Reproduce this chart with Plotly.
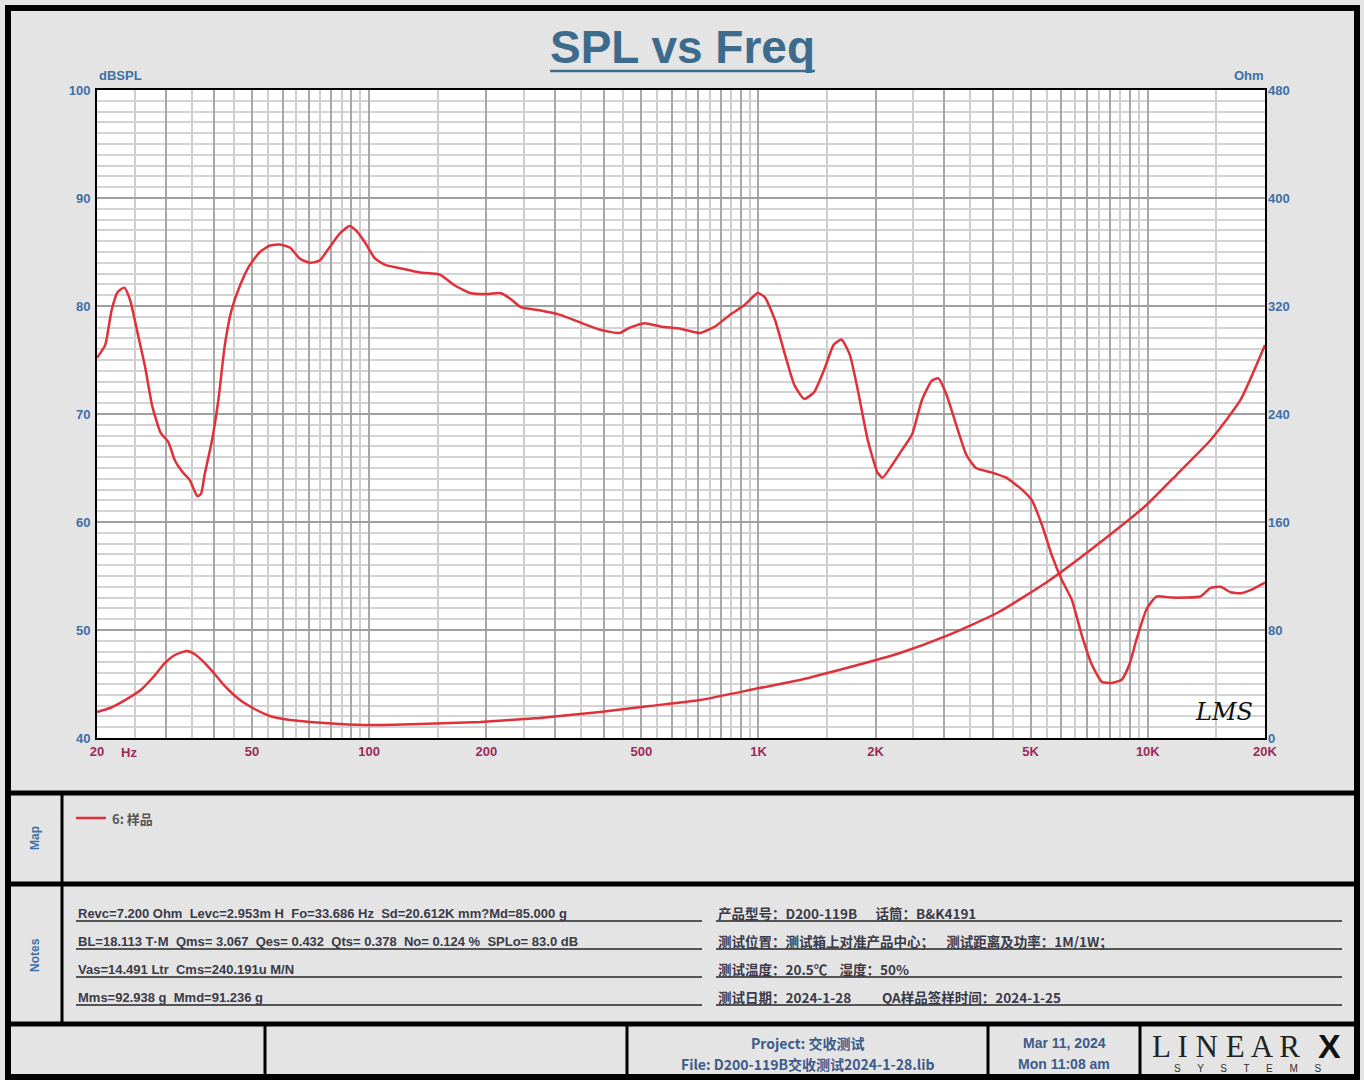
import plotly.graph_objects as go

# ---------------- data ----------------
freq_spl = [20, 21.0, 21.8, 22.6, 23.5, 24.3, 25.5, 26.6, 27.7, 29.1, 30.5, 31.7, 33.2, 34.6,
            36.2, 37.0, 37.8, 39.5, 41.0, 42.6, 44.3, 46.6, 49.4, 52.4, 55.6, 59, 62.7, 66.3,
            70.4, 74.6, 79, 84, 89, 93, 97.5, 103.5, 110, 120, 135, 152, 166, 182, 198, 217,
            230, 245, 274, 308, 347, 392, 440, 467, 510, 560, 630, 708, 773, 846, 921, 996,
            1039, 1103, 1170, 1236, 1310, 1389, 1475, 1560, 1634, 1716, 1800, 1908, 2021, 2082,
            2207, 2340, 2480, 2630, 2790, 2900, 3040, 3220, 3420, 3620, 3960, 4330, 4750, 5040,
            5350, 5670, 6020, 6380, 6770, 7180, 7620, 8080, 8570, 8970, 9350, 9920, 10520,
            11500, 12500, 13660, 14500, 15380, 16320, 17300, 18360, 20000]
spl_db = [75.2, 76.4, 79.6, 81.3, 81.7, 80.6, 77.3, 74.3, 70.8, 68.3, 67.4, 65.7, 64.6, 63.9,
          62.4, 62.6, 64.4, 67.6, 71.3, 76.4, 79.6, 81.9, 83.8, 85.0, 85.6, 85.7, 85.4, 84.4,
          84.0, 84.2, 85.4, 86.7, 87.4, 86.9, 85.9, 84.4, 83.8, 83.5, 83.1, 82.9, 81.9, 81.2,
          81.1, 81.2, 80.7, 79.9, 79.6, 79.2, 78.5, 77.8, 77.5, 78.0, 78.4, 78.1, 77.9, 77.5,
          78.1, 79.2, 80.1, 81.2, 80.8, 78.7, 75.5, 72.7, 71.4, 72.0, 74.1, 76.4, 76.9, 75.5,
          72.2, 67.6, 64.6, 64.1, 65.3, 66.7, 68.1, 71.3, 73.1, 73.3, 71.8, 69.0, 66.2, 65.0,
          64.6, 64.1, 63.0, 62.0, 59.7, 56.9, 54.6, 52.8, 49.5, 46.8, 45.2, 45.1, 45.4, 46.8,
          49.1, 51.9, 53.1, 53.0, 53.0, 53.1, 53.9, 54.0, 53.5, 53.4, 53.7, 54.4]

freq_imp = [20, 21.6, 23.6, 25.9, 28.2, 29.9, 31.7, 34.0, 35.6, 37.8, 40.3, 42.8, 46.6, 50.8,
            55.6, 62.7, 70.4, 84, 100, 135, 193, 274, 392, 525, 708, 1005, 1278, 1720, 2310,
            3040, 4100, 5510, 7400, 9920, 11840, 14500, 17300, 20000]
imp_ohm = [19.3, 22.2, 28.1, 35.6, 46.7, 55.6, 61.5, 64.4, 62.2, 55.6, 46.7, 37.8, 28.1, 21.5,
           16.3, 13.3, 11.9, 10.4, 9.6, 10.4, 11.9, 14.8, 19.3, 23.7, 28.1, 37.0, 43.0, 52.6,
           63.0, 75.6, 92.6, 115.6, 143.0, 172.6, 194.8, 220.7, 250.4, 291.1]

x_major = [20, 30, 40, 50, 60, 70, 80, 90, 100, 200, 300, 400, 500, 600, 700, 800, 900,
           1000, 2000, 3000, 4000, 5000, 6000, 7000, 8000, 9000, 10000, 20000]
x_labels = {20: "20", 50: "50", 100: "100", 200: "200", 500: "500", 1000: "1K",
            2000: "2K", 5000: "5K", 10000: "10K", 20000: "20K"}
x_minor = [25, 35, 45, 55, 65, 75, 85, 95, 150, 250, 350, 450, 550, 650, 750, 850, 950,
           1500, 2500, 3500, 4500, 5500, 6500, 7500, 8500, 9500, 15000]
y_ticks = [40, 50, 60, 70, 80, 90, 100]
y2_ticks = [0, 80, 160, 240, 320, 400, 480]

legend_label = "6: 样品"
notes_left = ["Revc=7.200 Ohm  Levc=2.953m H  Fo=33.686 Hz  Sd=20.612K mm?Md=85.000 g",
              "BL=18.113 T·M  Qms= 3.067  Qes= 0.432  Qts= 0.378  No= 0.124 %  SPLo= 83.0 dB",
              "Vas=14.491 Ltr  Cms=240.191u M/N",
              "Mms=92.938 g  Mmd=91.236 g"]
notes_right = ["产品型号：D200-119B      话筒：B&K4191",
               "测试位置：测试箱上对准产品中心；    测试距离及功率：1M/1W；",
               "测试温度：20.5℃    湿度：50%",
               "测试日期：2024-1-28          QA样品签样时间：2024-1-25"]

# ---------------- geometry helpers (pixel -> paper) ----------------
W, H = 1364, 1080
L, R, T, B = 97, 1265, 90, 738


def X(px):
    return (px - L) / (R - L)


def Y(py):
    return (B - py) / (B - T)


RED = "#e0303a"
BLUE = "#3f6fa6"
MAG = "#9b2a5a"
TXT = "#3a3a48"
FONT = "Liberation Sans, Arial, sans-serif"
CJK = "Noto Sans CJK SC, sans-serif"

fig = go.Figure()
fig.add_trace(go.Scatter(x=freq_spl, y=spl_db, mode="lines", name=legend_label,
                         line=dict(color=RED, width=2.5, shape="spline", smoothing=0.5),
                         showlegend=False))
fig.add_trace(go.Scatter(x=freq_imp, y=imp_ohm, mode="lines", yaxis="y2",
                         line=dict(color=RED, width=2.5, shape="spline", smoothing=0.5),
                         showlegend=False))

fig.update_layout(
    width=W, height=H, autosize=False,
    margin=dict(l=L, r=W - R, t=T, b=H - B, pad=0),
    paper_bgcolor="#e4e4e4", plot_bgcolor="white",
    xaxis=dict(type="log", range=[1.30103, 4.30103],
               tickmode="array", tickvals=x_major,
               ticktext=[x_labels.get(v, "") for v in x_major],
               tickfont=dict(family=FONT, size=13, color=MAG, weight="bold"),
               showgrid=True, gridcolor="#a8a8a8", gridwidth=2,
               minor=dict(tickmode="array", tickvals=x_minor, showgrid=True,
                          gridcolor="#cdcdcd", gridwidth=1.5),
               showline=True, mirror=True, linecolor="black", linewidth=2,
               ticks="", zeroline=False),
    yaxis=dict(range=[40, 100], tickmode="array", tickvals=y_ticks,
               tickfont=dict(family=FONT, size=13, color=BLUE, weight="bold"),
               showgrid=True, gridcolor="#a0a0a0", gridwidth=1.5,
               minor=dict(dtick=1, showgrid=True, gridcolor="#d3d3d3", gridwidth=2),
               showline=True, mirror=True, linecolor="black", linewidth=2,
               ticks="", zeroline=False, ticklabelstandoff=2),
    yaxis2=dict(range=[0, 480], overlaying="y", side="right", tickmode="array",
                tickvals=y2_ticks,
                tickfont=dict(family=FONT, size=13, color=BLUE, weight="bold"),
                showgrid=False, zeroline=False, ticks="", ticklabelstandoff=2),
)

shapes = []
ann = []


def hline(y, x0, x1, w, color="black"):
    shapes.append(dict(type="line", xref="paper", yref="paper", x0=X(x0), x1=X(x1),
                       y0=Y(y), y1=Y(y), line=dict(color=color, width=w)))


def vline(x, y0, y1, w, color="black"):
    shapes.append(dict(type="line", xref="paper", yref="paper", x0=X(x), x1=X(x),
                       y0=Y(y0), y1=Y(y1), line=dict(color=color, width=w)))


def text(x, y, s, size=12, color=TXT, family=FONT, xanchor="left", bold=True,
         angle=0, italic=False):
    ann.append(dict(xref="paper", yref="paper", x=X(x), y=Y(y), text=s, showarrow=False,
                    xanchor=xanchor, yanchor="middle", textangle=angle,
                    font=dict(family=family, size=size, color=color,
                              weight="bold" if bold else "normal",
                              style="italic" if italic else "normal")))


# outer frame and panel separators
shapes.append(dict(type="rect", xref="paper", yref="paper", x0=X(8), x1=X(1357),
                   y0=Y(8), y1=Y(1077), line=dict(color="black", width=6)))
hline(793, 8, 1357, 5)
hline(884, 8, 1357, 5)
hline(1024, 8, 1357, 5)
vline(62, 793, 1024, 3)
for xv in [265, 627, 988, 1140]:
    vline(xv, 1024, 1077, 3)

# title
text(682, 47, "SPL vs Freq", size=46, color="#3d6b8c", xanchor="center")
hline(71, 550, 815, 2.5, color="#3d6b8c")

# axis titles
text(97, 76, "dBSPL", size=13, color=BLUE)
text(1266, 76, "Ohm", size=13, color=BLUE, xanchor="right")
text(129, 752, "Hz", size=13, color=MAG, xanchor="center")

# signature
text(1224, 712, "LMS", size=24, color="#111111", family="DejaVu Serif", xanchor="center",
     bold=False, italic=True)

# map panel
text(35, 838, "Map", size=12, color=BLUE, xanchor="center", angle=-90)
hline(818, 76, 106, 2.5, color=RED)
text(110, 818, legend_label, size=13, color="#555555", family=CJK)

# notes panel
text(35, 955, "Notes", size=12, color=BLUE, xanchor="center", angle=-90)
rows = [913, 941, 969, 997]
for i, yv in enumerate(rows):
    text(76, yv, notes_left[i], size=13, color=TXT)
    hline(yv + 8, 76, 702, 2, color="#555555")
    text(716, yv, notes_right[i], size=13.5, color=TXT, family=CJK)
    hline(yv + 8, 716, 1342, 2, color="#555555")

# footer
text(807, 1043, "Project: 交收测试", size=14, color="#3c5a8a", family=CJK, xanchor="center")
text(807, 1064, "File: D200-119B交收测试2024-1-28.lib", size=14, color="#3c5a8a", family=CJK,
     xanchor="center")
text(1064, 1043, "Mar 11, 2024", size=14, color="#3c5a8a", xanchor="center")
text(1064, 1064, "Mon 11:08 am", size=14, color="#3c5a8a", xanchor="center")
text(1150, 1046, "L I N E A R", size=31, color="#222222", family="Liberation Serif",
     bold=False)
text(1329, 1046, "X", size=34, color="#111111", family=FONT, xanchor="center")
text(1247, 1068, "S      Y      S      T      E      M      S", size=10, color="#333333",
     xanchor="center", bold=False)

fig.update_layout(shapes=shapes, annotations=ann)

fig.write_html("out.html", config={"displayModeBar": False},
               post_script="document.body.style.margin='0';")
